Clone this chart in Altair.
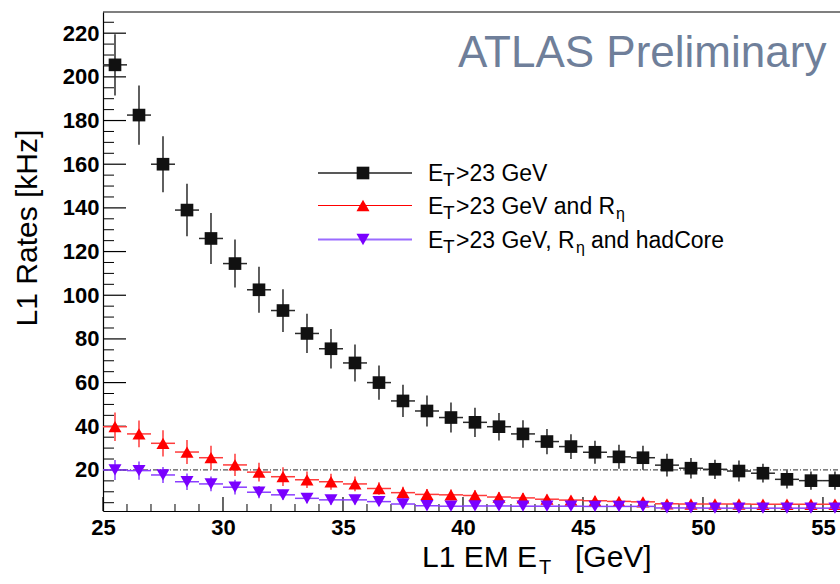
import altair as alt
import pandas as pd

# ---------------- data ----------------
bin_center = [25.5, 26.5, 27.5, 28.5, 29.5, 30.5, 31.5, 32.5, 33.5, 34.5,
              35.5, 36.5, 37.5, 38.5, 39.5, 40.5, 41.5, 42.5, 43.5, 44.5,
              45.5, 46.5, 47.5, 48.5, 49.5, 50.5, 51.5, 52.5, 53.5, 54.5, 55.5]

rate_et = [205.5, 182.5, 160.0, 139.0, 126.0, 114.5, 102.5, 93.0, 82.5, 75.5,
           69.0, 60.0, 51.6, 47.0, 44.0, 41.8, 39.8, 36.5, 33.0, 30.7,
           28.1, 26.0, 25.6, 22.2, 20.8, 20.3, 19.5, 18.5, 15.7, 15.1, 15.1]
err_et = [14.0, 13.6, 12.8, 12.0, 11.7, 11.0, 10.5, 9.8, 9.0, 9.0,
          8.5, 7.8, 7.4, 7.1, 6.9, 6.7, 6.3, 6.3, 5.8, 5.7,
          5.3, 5.5, 5.5, 5.2, 4.7, 4.4, 4.8, 4.3, 4.2, 4.2, 4.2]

rate_reta = [39.8, 36.5, 32.2, 28.2, 25.6, 22.3, 19.0, 16.9, 15.5, 14.6,
             13.6, 11.5, 9.6, 8.8, 8.6, 8.3, 7.6, 7.2, 6.6, 6.2,
             5.9, 5.6, 5.4, 4.5, 4.4, 4.4, 4.4, 4.3, 4.3, 4.3, 4.3]
err_reta = [6.5, 6.1, 6.0, 5.5, 5.5, 5.1, 4.3, 4.3, 3.8, 3.7,
            3.4, 2.9, 2.7, 2.5, 2.5, 2.4, 2.3, 2.2, 2.1, 2.0,
            2.0, 1.9, 1.9, 1.7, 1.7, 1.7, 1.7, 1.7, 1.7, 1.7, 1.7]

rate_had = [20.0, 19.7, 17.7, 14.6, 13.6, 12.1, 9.8, 8.6, 7.0, 6.3,
            6.3, 5.5, 4.4, 3.6, 3.4, 3.5, 3.5, 3.4, 3.4, 3.4,
            3.3, 3.3, 3.3, 2.6, 2.6, 2.5, 2.5, 2.5, 2.5, 2.5, 2.5]
err_had = [4.6, 4.2, 3.7, 3.8, 3.4, 3.4, 2.8, 2.3, 2.3, 2.2,
           2.1, 2.0, 1.8, 1.7, 1.7, 1.7, 1.6, 1.6, 1.6, 1.6,
           1.5, 1.5, 1.5, 1.5, 1.5, 1.5, 1.5, 1.5, 1.5, 1.5, 1.5]

ref_rate = [20]

x_labels = [25, 30, 35, 40, 45, 50, 55]
x_minor = [26, 27, 28, 29, 31, 32, 33, 34, 36, 37, 38, 39, 41, 42, 43, 44,
           46, 47, 48, 49, 51, 52, 53, 54]
y_labels = [20, 40, 60, 80, 100, 120, 140, 160, 180, 200, 220]
y_minor = [5, 10, 15, 25, 30, 35, 45, 50, 55, 65, 70, 75, 85, 90, 95,
           105, 110, 115, 125, 130, 135, 145, 150, 155, 165, 170, 175,
           185, 190, 195, 205, 210, 215, 225]

legend_labels = ["E", "T", ">23 GeV", ">23 GeV and R", "η", ">23 GeV, R", "and hadCore"]

# ---------------- layout ----------------
W, H = 737, 499
FONT = "Liberation Sans"

xs = alt.Scale(domain=[25, 55.71], nice=False, zero=False)
ys = alt.Scale(domain=[1.2, 229.7], nice=False, zero=False)

xaxis = alt.Axis(values=x_labels, title=None, grid=False, ticks=False, domain=True,
                 domainColor="black", domainWidth=1.2, labelFont=FONT,
                 labelFontWeight="bold", labelFontSize=22, labelColor="black",
                 labelPadding=6, labelFlush=False, labelOverlap=False, format="d")
yaxis = alt.Axis(values=y_labels, title=None, grid=False, ticks=False, domain=True,
                 domainColor="black", domainWidth=1.2, labelFont=FONT,
                 labelFontWeight="bold", labelFontSize=22, labelColor="black",
                 labelPadding=4, labelFlush=False, labelOverlap=False, format="d")

one = pd.DataFrame({"a": [0]})

layers = []

# reference line at 20 kHz (carries the axes)
layers.append(
    alt.Chart(pd.DataFrame({"r": ref_rate})).mark_rule(
        color="#555555", strokeDash=[5, 2, 1, 2], strokeWidth=1.2
    ).encode(y=alt.Y("r:Q", scale=ys, axis=yaxis), x=alt.value(0), x2=alt.value(W))
)
layers.append(
    alt.Chart(pd.DataFrame({"t": x_labels})).mark_rule(color="black", strokeWidth=1.2).encode(
        x=alt.X("t:Q", scale=xs, axis=xaxis), y=alt.value(H), y2=alt.value(H - 14))
)
layers.append(
    alt.Chart(pd.DataFrame({"t": x_minor})).mark_rule(color="black", strokeWidth=1).encode(
        x=alt.X("t:Q", scale=xs, axis=xaxis), y=alt.value(H), y2=alt.value(H - 7))
)
layers.append(
    alt.Chart(pd.DataFrame({"t": y_labels})).mark_rule(color="black", strokeWidth=1.2).encode(
        y=alt.Y("t:Q", scale=ys, axis=yaxis), x=alt.value(0), x2=alt.value(23))
)
layers.append(
    alt.Chart(pd.DataFrame({"t": y_minor})).mark_rule(color="black", strokeWidth=1).encode(
        y=alt.Y("t:Q", scale=ys, axis=yaxis), x=alt.value(0), x2=alt.value(11))
)
# top frame
layers.append(
    alt.Chart(one).mark_rule(color="black", strokeWidth=1.2).encode(
        x=alt.value(0), x2=alt.value(W), y=alt.value(0))
)


def series(vals, errs, color, ecolor, shape, size):
    d = pd.DataFrame({"x": bin_center, "y": vals, "e": errs})
    base = alt.Chart(d).transform_calculate(
        lo="datum.y - datum.e", hi="datum.y + datum.e",
        xl="datum.x - 0.5", xh="datum.x + 0.5")
    v = base.mark_rule(color=ecolor, strokeWidth=1.5).encode(
        x=alt.X("x:Q", scale=xs, axis=xaxis),
        y=alt.Y("lo:Q", scale=ys, axis=yaxis), y2="hi:Q")
    h = base.mark_rule(color=ecolor, strokeWidth=1.5).encode(
        x=alt.X("xl:Q", scale=xs, axis=xaxis), x2="xh:Q",
        y=alt.Y("y:Q", scale=ys, axis=yaxis))
    p = base.mark_point(shape=shape, filled=True, size=size, color=color,
                        opacity=1, strokeWidth=0).encode(
        x=alt.X("x:Q", scale=xs, axis=xaxis),
        y=alt.Y("y:Q", scale=ys, axis=yaxis))
    return [v, h, p]


layers += series(rate_et, err_et, "#111111", "#2a2a2a", "square", 160)
layers += series(rate_reta, err_reta, "#ff0000", "#ff3b3b", "triangle-up", 170)
layers += series(rate_had, err_had, "#7a00ff", "#8a3dff", "triangle-down", 170)


def text(t, x, y, size, color="black", weight="normal", angle=0, align="left",
         baseline="alphabetic"):
    return alt.Chart(one).mark_text(
        text=t, font=FONT, fontSize=size, fontWeight=weight, color=color,
        angle=angle, align=align, baseline=baseline
    ).encode(x=alt.value(x), y=alt.value(y))


def line(x1, x2, y, color, w):
    return alt.Chart(one).mark_rule(color=color, strokeWidth=w).encode(
        x=alt.value(x1), x2=alt.value(x2), y=alt.value(y))


def marker(x, y, shape, color, size):
    return alt.Chart(one).mark_point(shape=shape, filled=True, size=size, color=color,
                                     opacity=1, strokeWidth=0).encode(
        x=alt.value(x), y=alt.value(y))


# legend
ly = [161, 193.5, 227.5]
layers += [line(215, 309, ly[0], "#222222", 1.3), marker(260, ly[0], "square", "#111111", 160)]
layers += [line(215, 309, ly[1], "#ff0000", 1.2), marker(260, ly[1], "triangle-up", "#ff0000", 170)]
layers += [line(215, 309, ly[2], "#9a6bff", 2.0), marker(260, ly[2], "triangle-down", "#7a00ff", 170)]

tx = 325
for i, yy in enumerate(ly):
    layers.append(text(legend_labels[0], tx, yy + 8, 23))
    layers.append(text(legend_labels[1], tx + 15, yy + 13, 19))
layers.append(text(legend_labels[2], tx + 28, ly[0] + 8, 23))
layers.append(text(legend_labels[3], tx + 28, ly[1] + 8, 23))
layers.append(text(legend_labels[4], tx + 188, ly[1] + 13, 16))
layers.append(text(legend_labels[5], tx + 28, ly[2] + 8, 23))
layers.append(text(legend_labels[4], tx + 148, ly[2] + 13, 16))
layers.append(text(legend_labels[6], tx + 163, ly[2] + 8, 23))

# ATLAS label
layers.append(text("ATLAS Preliminary", 355, 55, 44, color="#6f7f9a"))

# axis titles
layers.append(text("L1 Rates [kHz]", -75, 216, 30, angle=270, align="center",
                   baseline="middle"))
layers.append(text("L1 EM E", 319, 555, 30))
layers.append(text("T", 436, 562, 20))
layers.append(text("[GeV]", 472, 555, 30))

chart = alt.layer(*layers).properties(
    width=W, height=H,
    autosize=alt.AutoSizeParams(type="none"),
    padding={"left": 103, "top": 12, "right": 0, "bottom": 73},
    background="white",
).configure_view(strokeWidth=0)

chart.save("out.html", embed_options={"renderer": "svg", "actions": False})
